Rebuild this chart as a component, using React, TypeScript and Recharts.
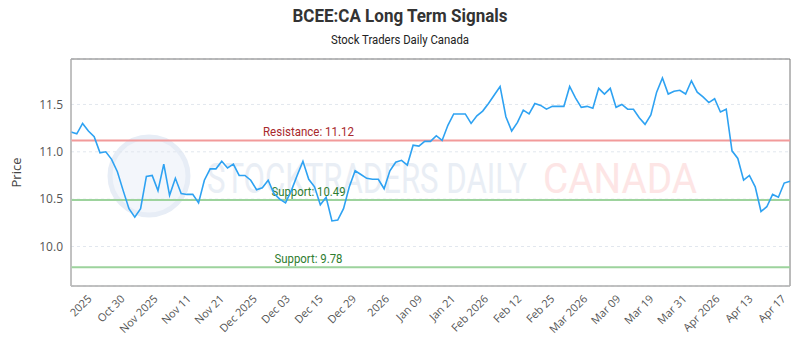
import { CartesianGrid, ComposedChart, Line, ReferenceArea, ReferenceLine, XAxis, YAxis } from 'recharts'

// daily closes
const prices = [
  11.21, 11.19, 11.3, 11.22, 11.16, 10.99, 11.0, 10.92, 10.79, 10.59,
  10.4, 10.31, 10.4, 10.74, 10.75, 10.59, 10.87, 10.54, 10.72, 10.56,
  10.55, 10.55, 10.46, 10.7, 10.82, 10.82, 10.9, 10.83, 10.87, 10.75,
  10.75, 10.7, 10.6, 10.62, 10.7, 10.56, 10.5, 10.46, 10.59, 10.75,
  10.9, 10.71, 10.63, 10.44, 10.52, 10.27, 10.28, 10.4, 10.63, 10.8,
  10.76, 10.72, 10.71, 10.71, 10.61, 10.8, 10.89, 10.91, 10.86, 11.07,
  11.06, 11.11, 11.11, 11.17, 11.12, 11.28, 11.4, 11.4, 11.4, 11.3,
  11.38, 11.43, 11.51, 11.6, 11.69, 11.37, 11.22, 11.31, 11.44, 11.4,
  11.51, 11.49, 11.45, 11.48, 11.48, 11.48, 11.69, 11.57, 11.47, 11.48,
  11.46, 11.67, 11.61, 11.67, 11.47, 11.5, 11.45, 11.45, 11.36, 11.29,
  11.39, 11.63, 11.78, 11.61, 11.64, 11.65, 11.61, 11.75, 11.63, 11.58,
  11.52, 11.56, 11.42, 11.45, 11.01, 10.93, 10.7, 10.75, 10.63, 10.37,
  10.42, 10.55, 10.52, 10.67, 10.69,
]

const tickLabels = [
  '2025', 'Oct 30', 'Nov 2025', 'Nov 11', 'Nov 21', 'Dec 2025', 'Dec 03', 'Dec 15',
  'Dec 29', '2026', 'Jan 09', 'Jan 21', 'Feb 2026', 'Feb 12', 'Feb 25', 'Mar 2026',
  'Mar 09', 'Mar 19', 'Mar 31', 'Apr 2026', 'Apr 13', 'Apr 17',
]
// where each label sits, in trading days from the first point
const tickPositions = [
  2.75, 8.45, 14.15, 19.85, 25.55, 31.25, 36.95, 42.65, 48.35, 54.05, 59.75,
  65.45, 71.15, 76.85, 82.55, 88.25, 93.95, 99.65, 105.35, 111.05, 116.75, 122.45,
]

const priceTicks = [10, 10.5, 11, 11.5]
const priceDomain = [9.583, 11.98]

const resistance = 11.12
const supports = [10.49, 9.78]

const data = prices.map((price, i) => ({ i, price }))

const sans = '"Open Sans", "Noto Sans", sans-serif'
const narrow = 'Roboto, "Noto Sans", sans-serif'

function LineTag({
  viewBox,
  text,
  color,
  len,
}: {
  viewBox?: { x: number; y: number }
  text: string
  color: string
  len: number
}) {
  if (!viewBox) return null
  return (
    <text
      x={viewBox.x + 237.5}
      y={viewBox.y - 4.5}
      textAnchor="middle"
      fill={color}
      fontSize={13}
      fontFamily={narrow}
      textLength={len}
      lengthAdjust="spacingAndGlyphs"
    >
      {text}
    </text>
  )
}

function Backdrop() {
  return (
    <svg width={800} height={350} style={{ position: 'absolute', left: 0, top: 0 }}>
      <text
        x={400}
        y={22}
        textAnchor="middle"
        fontFamily={narrow}
        fontWeight="bold"
        fontSize={18}
        fill="#333"
        textLength={215}
        lengthAdjust="spacingAndGlyphs"
      >
        BCEE:CA Long Term Signals
      </text>
      <text
        x={400}
        y={44}
        textAnchor="middle"
        fontFamily={narrow}
        fontSize={12.5}
        fill="#222"
        textLength={138}
        lengthAdjust="spacingAndGlyphs"
      >
        Stock Traders Daily Canada
      </text>
      {/* faint watermark */}
      <circle cx={149} cy={176} r={39} fill="#f3f6fb" stroke="#e7edf6" strokeWidth={5} />
      <text
        x={207}
        y={192.5}
        fontFamily={narrow}
        fontSize={43}
        fill="#e9eef5"
        textLength={320}
        lengthAdjust="spacingAndGlyphs"
      >
        STOCKTRADERS DAILY
      </text>
      <text
        x={543}
        y={192.5}
        fontFamily={narrow}
        fontSize={43}
        fill="#fde5e5"
        textLength={154}
        lengthAdjust="spacingAndGlyphs"
      >
        CANADA
      </text>
    </svg>
  )
}

export default function App() {
  return (
    <div style={{ position: 'relative', width: 800, height: 350, background: '#fff' }}>
      <style>{'body{margin:0}'}</style>
      <Backdrop />
      <div style={{ position: 'absolute', left: 0, top: 0 }}>
        <ComposedChart width={800} height={350} data={data} margin={{ top: 59, right: 10, bottom: 0, left: 11 }}>
          <XAxis xAxisId="pad" height={11} tick={false} axisLine={false} tickLine={false} />
          <XAxis
            xAxisId="main"
            dataKey="i"
            type="number"
            domain={[0, prices.length - 1]}
            ticks={tickPositions}
            tickFormatter={(v: number) => tickLabels[tickPositions.indexOf(v)] ?? ''}
            interval={0}
            angle={-45}
            textAnchor="end"
            height={53}
            tickLine={false}
            axisLine={{ stroke: '#c8c8c8' }}
            tick={{ fill: '#555', fontSize: 11, fontFamily: sans }}
          />
          <YAxis yAxisId="pad" width={11} tick={false} axisLine={false} tickLine={false} />
          <YAxis
            yAxisId="main"
            type="number"
            domain={priceDomain}
            ticks={priceTicks}
            tickFormatter={(v: number) => v.toFixed(1)}
            width={49}
            tickLine={false}
            axisLine={{ stroke: '#c8c8c8' }}
            tick={{ fill: '#555', fontSize: 12, fontFamily: sans }}
            label={{
              value: 'Price',
              angle: -90,
              position: 'insideLeft',
              offset: -6,
              style: { textAnchor: 'middle', fill: '#444', fontSize: 13, fontFamily: sans },
            }}
          />
          <CartesianGrid xAxisId="main" yAxisId="main" vertical={false} strokeDasharray="3 3" stroke="#e2e7ee" />
          <ReferenceArea
            xAxisId="main"
            yAxisId="main"
            x1={0}
            x2={prices.length - 1}
            y1={priceDomain[0]}
            y2={priceDomain[1]}
            fill="none"
            fillOpacity={0}
            stroke="#777"
            strokeWidth={1}
          />
          <ReferenceLine
            xAxisId="main"
            yAxisId="main"
            y={resistance}
            stroke="#f29a9a"
            strokeWidth={2}
            label={<LineTag text={`Resistance: ${resistance}`} color="#a8282c" len={91} />}
          />
          {supports.map((s, k) => (
            <ReferenceLine
              key={s}
              xAxisId="main"
              yAxisId="main"
              y={s}
              stroke="#9dd39d"
              strokeWidth={2}
              label={<LineTag text={`Support: ${s}`} color="#2f7d2f" len={k === 0 ? 74 : 68} />}
            />
          ))}
          <Line
            xAxisId="main"
            yAxisId="main"
            dataKey="price"
            type="linear"
            stroke="#2ea2f2"
            strokeWidth={1.6}
            dot={false}
            isAnimationActive={false}
          />
        </ComposedChart>
      </div>
    </div>
  )
}
